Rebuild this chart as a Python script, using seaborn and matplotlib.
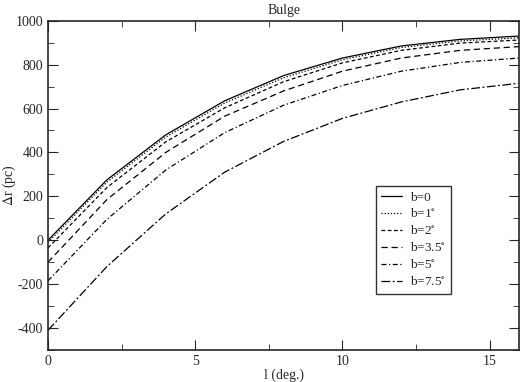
import pandas as pd
import seaborn as sns
import matplotlib.pyplot as plt
from matplotlib.ticker import MultipleLocator

l_deg = [0, 2, 4, 6, 8, 10, 12, 14, 16]
labels = ['b=0', 'b=1$^{\\circ}$', 'b=2$^{\\circ}$', 'b=3.5$^{\\circ}$', 'b=5$^{\\circ}$', 'b=7.5$^{\\circ}$']
b0 = [0, 275, 480, 635, 750, 830, 885, 915, 930]
b1 = [-10, 265, 470, 625, 740, 822, 878, 908, 922]
b2 = [-35, 240, 448, 603, 722, 808, 865, 898, 912]
b35 = [-100, 185, 400, 565, 680, 770, 830, 865, 882]
b5 = [-185, 95, 320, 490, 615, 705, 770, 810, 830]
b75 = [-410, -120, 120, 310, 450, 555, 630, 685, 715]

series = [b0, b1, b2, b35, b5, b75]
rows = []
for lab, vals in zip(labels, series):
    for x, y in zip(l_deg, vals):
        rows.append({'l': x, 'dr': y, 'b': lab})
df = pd.DataFrame(rows)

sns.set_style('ticks')
plt.rcParams['font.family'] = ['Liberation Serif', 'DejaVu Serif']
plt.rcParams['mathtext.fontset'] = 'stix'
plt.rcParams['axes.unicode_minus'] = False

fig = plt.figure(figsize=(5.2, 3.82), dpi=100)
ax = fig.add_axes([0.0923, 0.0838, 0.906, 0.862])

dashes = {labels[0]: '', labels[1]: (1, 1.5), labels[2]: (3, 2),
          labels[3]: (5, 3), labels[4]: (4, 2, 1, 2), labels[5]: (7, 2, 1.5, 2)}
sns.lineplot(data=df, x='l', y='dr', hue='b', style='b', dashes=dashes,
             palette=['black'] * 6, linewidth=0.9, ax=ax)

ax.set_xlim(0, 16)
ax.set_ylim(-500, 1000)
ax.xaxis.set_major_locator(MultipleLocator(5))
ax.xaxis.set_minor_locator(MultipleLocator(2.5))
ax.yaxis.set_major_locator(MultipleLocator(200))
ax.yaxis.set_minor_locator(MultipleLocator(100))
ax.tick_params(which='both', direction='in', top=True, right=True, labelsize=10)
ax.tick_params(which='major', length=7)
ax.tick_params(which='minor', length=4)
for s in ax.spines.values():
    s.set_linewidth(1.2)

ax.set_xlabel('l (deg.)', fontsize=10)
ax.set_ylabel('$\\Delta$r (pc)', fontsize=10)
ax.xaxis.set_label_coords(0.5, -0.078)
ax.yaxis.set_label_coords(-0.082, 0.5)
ax.xaxis.label.set_va('center')
ax.yaxis.label.set_va('center')
ax.set_title('Bulge', fontsize=10, pad=5)

leg = ax.legend(loc='upper left', bbox_to_anchor=(0.696, 0.498), fontsize=9.5,
                frameon=True, fancybox=False, edgecolor='black', handlelength=1.6,
                borderpad=0.4, labelspacing=0.3, handletextpad=0.6,
                borderaxespad=0)
leg.get_frame().set_linewidth(1.0)

fig.savefig('out.png', dpi=100)
